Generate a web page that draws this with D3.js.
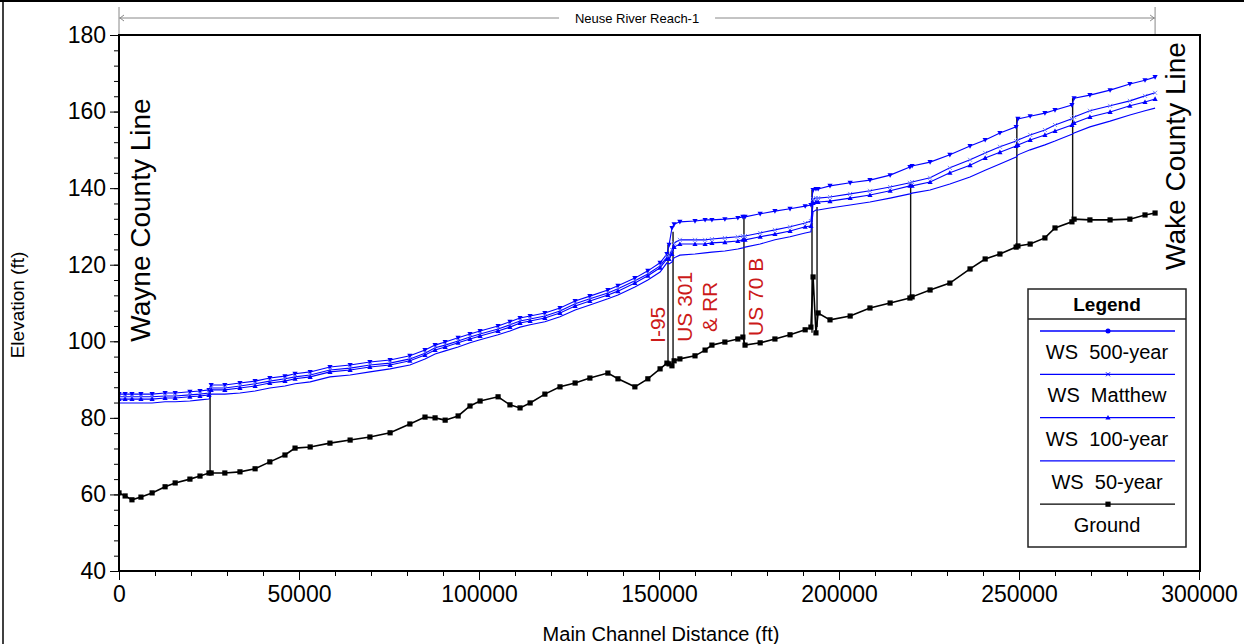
<!DOCTYPE html>
<html>
<head>
<meta charset="utf-8">
<script src="https://cdn.jsdelivr.net/npm/d3@7"></script>
<style>
body { margin: 0; background: #fff; }
text { font-family: "Liberation Sans", Arial, sans-serif; }
</style>
</head>
<body>
<svg id="mainSVG" width="1244" height="644"></svg>
<script>
// main channel stations (ft)
const stations = [0,1700,3600,6100,9200,12800,15600,19700,22500,25000,
    25600,29400,33600,37800,41900,46100,48900,53100,58600,64200,
    69700,75300,80800,85000,87800,90600,94200,97500,100300,105300,
    108600,111400,114200,118300,122500,126700,130800,135800,138600,143300,
    146900,150300,152200,152800,153600,154200,155800,160000,162800,164700,
    168300,171900,173300,173900,178100,182200,186400,190600,192200,192800,
    193600,194200,197500,203100,208600,214200,219700,220300,225300,230800,
    236400,240600,244700,249200,249700,253100,257200,260000,264700,265300,
    269700,275300,280800,285000,287800]

const ws500 = [86.2,86.2,86.2,86.2,86.2,86.5,86.5,86.8,87.0,87.3,
    88.6,88.6,89.1,89.6,90.4,90.9,91.5,92.0,93.3,93.8,
    94.6,95.1,96.2,97.7,99.0,99.8,100.9,101.9,102.7,104.0,
    105.1,106.1,106.6,107.4,108.7,110.5,111.8,113.4,114.5,116.5,
    118.4,120.5,122.8,125.2,129.6,130.6,131.2,131.4,131.7,131.7,
    131.9,132.2,132.5,132.5,133.3,134.0,134.6,135.3,135.6,139.5,
    139.8,139.8,140.6,141.4,142.1,143.4,145.5,145.8,146.8,148.7,
    151.0,152.6,154.4,156.0,158.1,158.8,159.6,160.4,161.7,163.5,
    164.3,165.6,167.2,168.2,169.0]

const wsMatthew = [85.5,85.5,85.5,85.5,85.5,85.7,85.7,86.0,86.2,86.5,
    87.8,87.8,88.3,88.9,89.6,90.2,90.7,91.2,92.5,93.0,
    93.8,94.3,95.4,96.9,98.3,99.0,100.1,101.1,101.9,103.2,
    104.3,105.3,105.8,106.6,107.9,109.8,111.1,112.6,113.7,115.8,
    117.6,119.7,122.0,122.3,123.9,125.7,126.5,126.5,126.5,126.7,
    127.0,127.3,127.5,127.5,128.3,129.1,129.9,130.9,131.4,137.2,
    137.4,137.4,137.7,138.5,139.3,140.3,141.4,141.6,142.7,145.3,
    147.4,149.2,150.8,152.3,152.6,153.9,155.2,156.5,158.1,158.6,
    160.2,161.5,162.8,164.1,164.9]

const ws100 = [84.9,84.9,84.9,84.9,84.9,85.2,85.2,85.5,85.7,86.0,
    87.3,87.3,87.8,88.3,89.1,89.6,90.2,90.7,92.0,92.5,
    93.3,93.8,94.9,96.4,97.7,98.5,99.6,100.6,101.4,102.7,
    103.7,104.8,105.3,106.1,107.4,109.2,110.5,112.1,113.1,115.2,
    117.1,119.2,121.5,121.5,122.8,124.6,125.4,125.4,125.4,125.7,
    125.9,126.2,126.5,126.5,127.3,128.0,128.8,129.9,130.1,136.1,
    136.4,136.4,136.6,137.4,138.2,139.3,140.6,140.6,141.6,144.0,
    146.0,147.9,149.4,151.0,151.3,152.6,153.9,154.9,156.5,157.0,
    158.6,159.9,161.5,162.5,163.3]

const ws50 = [83.9,83.9,83.9,83.9,83.9,84.2,84.2,84.4,84.7,84.9,
    86.2,86.2,86.5,87.0,87.8,88.3,88.9,89.4,90.7,91.2,
    92.0,92.8,93.8,95.4,96.7,97.5,98.5,99.6,100.4,101.7,
    102.7,103.7,104.3,105.1,106.4,108.2,109.5,111.1,112.1,114.2,
    116.0,118.1,120.5,120.2,120.7,121.8,122.5,122.8,123.1,123.3,
    123.6,124.1,124.4,124.6,125.4,126.5,127.3,128.3,128.6,133.8,
    134.3,134.3,134.8,135.6,136.4,137.4,138.5,138.7,139.5,141.1,
    142.9,144.7,146.3,148.1,148.7,150.0,151.3,152.3,154.1,154.4,
    156.0,157.5,159.1,160.2,160.9]

const ground = [60.4,59.6,58.6,59.3,60.4,62.0,63.0,64.0,64.8,65.6,
    65.6,65.6,65.9,66.7,68.5,70.3,72.1,72.4,73.4,74.2,
    75.0,76.1,78.4,80.2,80.0,79.4,80.5,83.1,84.4,85.5,
    83.4,82.6,83.9,86.2,88.1,89.1,90.4,91.7,90.2,88.1,
    90.2,92.8,94.3,94.1,93.6,94.9,95.4,96.2,97.7,99.0,
    99.8,100.6,101.1,99.0,99.6,100.6,101.7,103.0,103.7,116.8,
    102.2,107.4,105.6,106.6,108.7,110.0,111.3,111.6,113.4,115.2,
    118.9,121.5,122.8,124.6,124.9,125.4,127.0,129.6,131.2,131.9,
    131.7,131.7,131.9,133.0,133.5]

// bridges / culverts drawn as verticals
const bridgeStations = [25300, 152500, 153900, 173600, 192500, 193900, 219900, 249400, 264900]
const bridgeTop = [87.3, 125.2, 128.6, 132.2, 139.5, 135.1, 141.6, 158.6, 163.5]
const bridgeBottom = [65.6, 94.6, 95.1, 99.0, 102.2, 103.7, 111.6, 124.6, 131.7]

const bridgeNames = [["I-95"], ["US 301", "& RR"], ["US 70 B"]]
const bridgeNameAt = [152500, 153900, 173600]
const bridgeNameElev = [104.3, 109.0, 111.6]

const reachName = "Neuse River Reach-1"
const reachStart = 0, reachEnd = 287800

const xTicks = [0, 50000, 100000, 150000, 200000, 250000, 300000]
const yTicks = [40, 60, 80, 100, 120, 140, 160, 180]
const legendNames = ["WS  500-year", "WS  Matthew", "WS  100-year", "WS  50-year", "Ground"]

const svg = d3.select("#mainSVG")
const mLeft = 119, mRight = 1199, mTop = 35, mBottom = 571

const x = d3.scaleLinear().domain([0, 300000]).range([mLeft, mRight])
const y = d3.scaleLinear().domain([40, 180]).range([mBottom, mTop])

// outer frame
svg.append("line").attr("x1", 0).attr("x2", 1244).attr("y1", 1).attr("y2", 1)
    .attr("stroke", "#000").attr("stroke-width", 2)
svg.append("line").attr("x1", 3).attr("x2", 3).attr("y1", 0).attr("y2", 644)
    .attr("stroke", "#000").attr("stroke-width", 1.5)

// reach annotation
const reach = svg.append("g").attr("stroke", "#888").attr("fill", "none")
reach.append("line").attr("x1", x(reachStart)).attr("x2", x(reachEnd)).attr("y1", 18).attr("y2", 18)
reach.append("line").attr("x1", x(reachStart)).attr("x2", x(reachStart)).attr("y1", 7).attr("y2", mTop)
reach.append("line").attr("x1", x(reachEnd)).attr("x2", x(reachEnd)).attr("y1", 7).attr("y2", mTop)
reach.append("path").attr("d", `M${x(reachStart) + 5},15L${x(reachStart) + 1},18L${x(reachStart) + 5},21`)
reach.append("path").attr("d", `M${x(reachEnd) - 5},15L${x(reachEnd) - 1},18L${x(reachEnd) - 5},21`)
const rmid = (x(reachStart) + x(reachEnd)) / 2
svg.append("rect").attr("x", rmid - 78).attr("y", 10).attr("width", 156).attr("height", 16).attr("fill", "#fff")
svg.append("text").attr("x", rmid).attr("y", 23).attr("text-anchor", "middle")
    .style("font-size", "13px").text(reachName)

// axes
const narrow = '"Liberation Sans Narrow", "Arial Narrow", "Liberation Sans", sans-serif'
const xMajor = svg.append("g").attr("transform", `translate(0,${mBottom})`)
    .call(d3.axisBottom(x).tickValues(xTicks).tickSize(9).tickPadding(6).tickFormat(d3.format("d")))
const xMinor = svg.append("g").attr("transform", `translate(0,${mBottom})`)
    .call(d3.axisBottom(x).tickValues(d3.range(0, 300001, 10000)).tickSize(5).tickFormat(""))
const yMajor = svg.append("g").attr("transform", `translate(${mLeft},0)`)
    .call(d3.axisLeft(y).tickValues(yTicks).tickSize(9).tickPadding(4))
const yMinor = svg.append("g").attr("transform", `translate(${mLeft},0)`)
    .call(d3.axisLeft(y).tickValues(d3.range(40, 181, 4)).tickSize(5).tickFormat(""))

svg.selectAll(".domain").remove()
svg.selectAll(".tick line").attr("stroke", "#000")
xMajor.selectAll("text").style("font-size", "23px").style("font-family", narrow).attr("fill", "#000")
yMajor.selectAll("text").style("font-size", "23px").style("font-family", narrow).attr("fill", "#000")

svg.append("text").attr("transform", `translate(24,305) rotate(-90)`).attr("text-anchor", "middle")
    .style("font-size", "19px").text("Elevation (ft)")
svg.append("text").attr("x", 661).attr("y", 641).attr("text-anchor", "middle")
    .style("font-size", "20px").text("Main Channel Distance (ft)")

// clip to plot
svg.append("clipPath").attr("id", "plotClip").append("rect")
    .attr("x", mLeft).attr("y", mTop).attr("width", mRight - mLeft).attr("height", mBottom - mTop)
const plot = svg.append("g").attr("clip-path", "url(#plotClip)")

const line = d3.line().x((d, i) => x(stations[i])).y(d => y(d))

// bridge verticals
plot.selectAll(".bridge").data(bridgeStations).join("line")
    .attr("class", "bridge")
    .attr("x1", d => x(d)).attr("x2", d => x(d))
    .attr("y1", (d, i) => y(bridgeTop[i])).attr("y2", (d, i) => y(bridgeBottom[i]))
    .attr("stroke", "#111").attr("stroke-width", 1.4)

const blue = "#0000ff"
const series = [
    {vals: ws500, mark: "down"},
    {vals: wsMatthew, mark: "x"},
    {vals: ws100, mark: "up"},
    {vals: ws50, mark: "none"}
]

const markPath = {
    down: "M-2.6,-2L2.6,-2L0,2.6Z",
    up: "M-2.6,2L2.6,2L0,-2.6Z",
    x: "M-2,-2L2,2M-2,2L2,-2",
    dot: "M-2.5,0A2.5,2.5 0 1,0 2.5,0A2.5,2.5 0 1,0 -2.5,0Z",
    square: "M-2.6,-2.6H2.6V2.6H-2.6Z"
}

series.forEach(s => {
    plot.append("path").datum(s.vals).attr("d", line)
        .attr("fill", "none").attr("stroke", blue).attr("stroke-width", 1.1)
    if (s.mark === "none") return
    plot.selectAll(null).data(s.vals).join("path")
        .attr("transform", (d, i) => `translate(${x(stations[i])},${y(d)})`)
        .attr("d", markPath[s.mark])
        .attr("fill", s.mark === "x" ? "none" : blue)
        .attr("stroke", s.mark === "x" ? "#6677ff" : "none")
        .attr("stroke-width", 0.9)
})

plot.append("path").datum(ground).attr("d", line)
    .attr("fill", "none").attr("stroke", "#000").attr("stroke-width", 1.6)
plot.selectAll(null).data(ground).join("path")
    .attr("transform", (d, i) => `translate(${x(stations[i])},${y(d)})`)
    .attr("d", markPath.square).attr("fill", "#000")

// bridge names
bridgeNames.forEach((lines, i) => {
    const bx = x(bridgeNameAt[i]) + (i === 0 ? -3 : 19)
    lines.forEach((t, j) => {
        svg.append("text")
            .attr("transform", `translate(${bx + j * 25},${y(bridgeNameElev[i])}) rotate(-90)`)
            .attr("text-anchor", "middle").attr("fill", "#cc1a1a")
            .style("font-size", "21px").text(t)
    })
})

// county lines
svg.append("text").attr("transform", "translate(150,220) rotate(-90)").attr("text-anchor", "middle")
    .style("font-size", "28px").text("Wayne County Line")
svg.append("text").attr("transform", "translate(1185,156) rotate(-90)").attr("text-anchor", "middle")
    .style("font-size", "28px").text("Wake County Line")

// plot border
svg.append("rect").attr("x", mLeft).attr("y", mTop).attr("width", mRight + 1 - mLeft).attr("height", mBottom - mTop)
    .attr("fill", "none").attr("stroke", "#000").attr("stroke-width", 2)

// legend
const lg = svg.append("g").attr("transform", "translate(1028,289)")
lg.append("rect").attr("width", 158).attr("height", 258).attr("fill", "#fff")
    .attr("stroke", "#222").attr("stroke-width", 1.5)
lg.append("line").attr("x1", 0).attr("x2", 158).attr("y1", 30).attr("y2", 30)
    .attr("stroke", "#222").attr("stroke-width", 1.5)
lg.append("text").attr("x", 79).attr("y", 22).attr("text-anchor", "middle")
    .style("font-size", "19px").style("font-weight", "bold").text("Legend")
const legendMarks = ["dot", "x", "up", "none", "square"]
legendNames.forEach((name, i) => {
    const ly = 42 + i * 43.3
    const col = i === 4 ? "#000" : blue
    lg.append("line").attr("x1", 12).attr("x2", 147).attr("y1", ly).attr("y2", ly)
        .attr("stroke", col).attr("stroke-width", 1.3)
    const m = legendMarks[i]
    if (m !== "none") {
        lg.append("path").attr("transform", `translate(80,${ly})`).attr("d", markPath[m])
            .attr("fill", m === "x" ? "none" : col).attr("stroke", m === "x" ? col : "none")
    }
    lg.append("text").attr("x", 79).attr("y", ly + 28).attr("text-anchor", "middle")
        .style("font-size", "20px").style("white-space", "pre").text(name)
})
</script>
</body>
</html>
